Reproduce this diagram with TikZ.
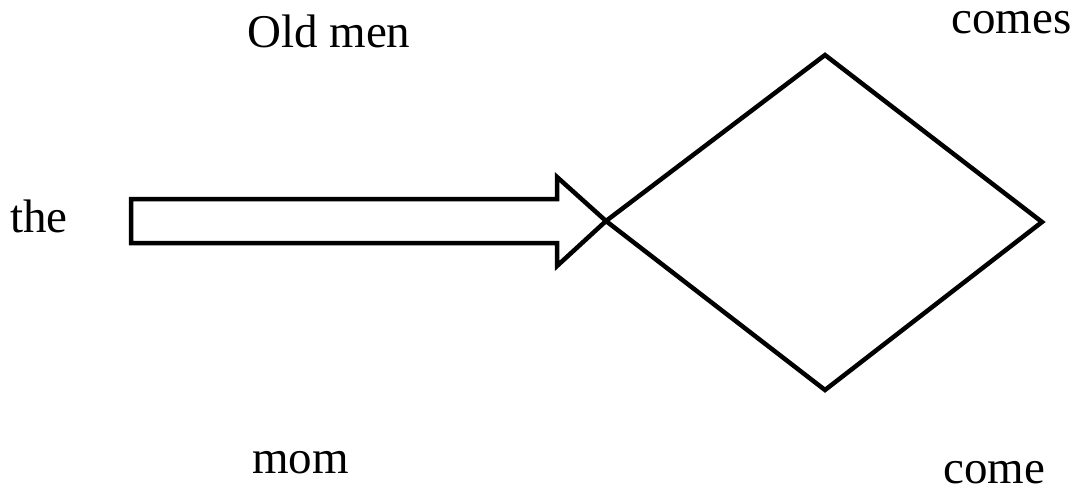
\documentclass[tikz,border=0pt]{standalone}
\usepackage{fontspec}
\setmainfont{Liberation Serif}
\begin{document}
\begin{tikzpicture}[x=1pt,y=-1pt,
  lbl/.style={anchor=base west,inner sep=0pt,font=\fontsize{47}{51}\selectfont},
  outline/.style={draw=black,line width=4.5pt,line join=miter}]
\useasboundingbox (0,0) rectangle (1077,490);
% block arrow
\coordinate (tip) at (606,221);
\draw[outline] (131,199) -- (557,199) -- (557,177) -- (tip) -- (557,266) -- (557,243) -- (131,243) -- cycle;
% diamond
\coordinate (dtop) at (825,55);
\coordinate (dright) at (1042,222);
\coordinate (dbot) at (825,390);
\draw[outline] (tip) -- (dtop) -- (dright) -- (dbot) -- cycle;
% labels
\node[lbl] (oldmen) at (247,47) {Old men};
\node[lbl] (comes) at (951,33) {comes};
\node[lbl] (the) at (10,232) {the};
\node[lbl] (mom) at (252,473) {mom};
\node[lbl] (come) at (943,483) {come};
\end{tikzpicture}
\end{document}
